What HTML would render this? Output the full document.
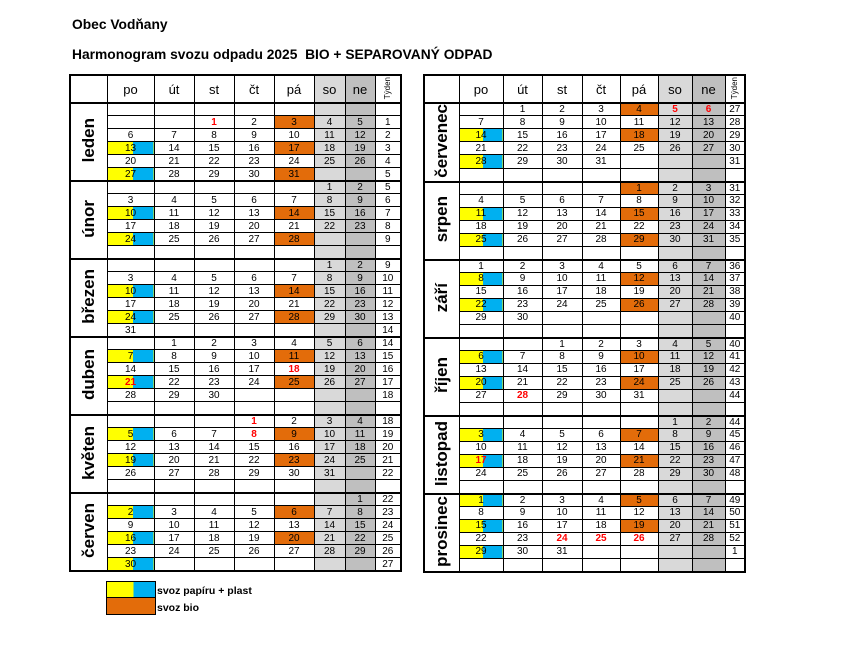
<!DOCTYPE html>
<html><head><meta charset="utf-8">
<style>
body{margin:0;width:852px;height:652px;background:#fff;font-family:"Liberation Sans",Arial,sans-serif;position:relative;overflow:hidden}
.t1{position:absolute;left:72px;top:17px;font-weight:bold;font-size:13.8px}
.t2{position:absolute;left:72px;top:47px;font-weight:bold;font-size:13.8px}
table{position:absolute;top:74px;border-collapse:collapse;table-layout:fixed;border:2px solid #000}
td{border:1px solid #000;height:12px;padding:0;font-size:10px;text-align:center;line-height:11px;overflow:hidden}
tr.h td{height:26px;font-size:13px;border-bottom:2px solid #000}
tr.m td{border-top:2px solid #000;height:11px}
td.mn{border-right:1px solid #000;border-left:2px solid #000}
td.mn span{writing-mode:vertical-rl;transform:rotate(180deg);font-weight:bold;font-size:17px;display:inline-block;line-height:20px}
td.ty span{writing-mode:vertical-rl;transform:rotate(180deg);font-size:8px;display:inline-block;line-height:10px}
.o{background:#e36c0a}
.y{background:linear-gradient(90deg,#ffff00 0,#ffff00 55%,#00b0f0 55%)}
.r{color:#f00;font-weight:bold}
col.s{background:#d9d9d9}col.n{background:#bfbfbf}
.lg{position:absolute;left:106px;width:48px;height:16px;border:1px solid #000}
.lt{position:absolute;left:157px;font-size:10.5px;font-weight:bold}
</style></head><body>
<div class="t1">Obec Vodňany</div>
<div class="t2">Harmonogram svozu odpadu 2025&nbsp; BIO + SEPAROVANÝ ODPAD</div>

<table style="left:69px;width:333px">
<colgroup><col style="width:37px"><col style="width:47px"><col style="width:40px"><col style="width:40px"><col style="width:40px"><col style="width:40px"><col class="s" style="width:31px"><col class="n" style="width:30px"><col style="width:26px"></colgroup>
<tr class="h"><td></td><td>po</td><td>út</td><td>st</td><td>čt</td><td>pá</td><td>so</td><td>ne</td><td class="ty"><span>Týden</span></td></tr>
<tr class="m"><td rowspan="6" class="mn"><span>leden</span></td><td></td><td></td><td></td><td></td><td></td><td></td><td></td><td></td></tr>
<tr><td></td><td></td><td class="r">1</td><td>2</td><td class="o">3</td><td>4</td><td>5</td><td>1</td></tr>
<tr><td>6</td><td>7</td><td>8</td><td>9</td><td>10</td><td>11</td><td>12</td><td>2</td></tr>
<tr><td class="y">13</td><td>14</td><td>15</td><td>16</td><td class="o">17</td><td>18</td><td>19</td><td>3</td></tr>
<tr><td>20</td><td>21</td><td>22</td><td>23</td><td>24</td><td>25</td><td>26</td><td>4</td></tr>
<tr><td class="y">27</td><td>28</td><td>29</td><td>30</td><td class="o">31</td><td></td><td></td><td>5</td></tr>
<tr class="m"><td rowspan="6" class="mn"><span>únor</span></td><td></td><td></td><td></td><td></td><td></td><td>1</td><td>2</td><td>5</td></tr>
<tr><td>3</td><td>4</td><td>5</td><td>6</td><td>7</td><td>8</td><td>9</td><td>6</td></tr>
<tr><td class="y">10</td><td>11</td><td>12</td><td>13</td><td class="o">14</td><td>15</td><td>16</td><td>7</td></tr>
<tr><td>17</td><td>18</td><td>19</td><td>20</td><td>21</td><td>22</td><td>23</td><td>8</td></tr>
<tr><td class="y">24</td><td>25</td><td>26</td><td>27</td><td class="o">28</td><td></td><td></td><td>9</td></tr>
<tr><td></td><td></td><td></td><td></td><td></td><td></td><td></td><td></td></tr>
<tr class="m"><td rowspan="6" class="mn"><span>březen</span></td><td></td><td></td><td></td><td></td><td></td><td>1</td><td>2</td><td>9</td></tr>
<tr><td>3</td><td>4</td><td>5</td><td>6</td><td>7</td><td>8</td><td>9</td><td>10</td></tr>
<tr><td class="y">10</td><td>11</td><td>12</td><td>13</td><td class="o">14</td><td>15</td><td>16</td><td>11</td></tr>
<tr><td>17</td><td>18</td><td>19</td><td>20</td><td>21</td><td>22</td><td>23</td><td>12</td></tr>
<tr><td class="y">24</td><td>25</td><td>26</td><td>27</td><td class="o">28</td><td>29</td><td>30</td><td>13</td></tr>
<tr><td>31</td><td></td><td></td><td></td><td></td><td></td><td></td><td>14</td></tr>
<tr class="m"><td rowspan="6" class="mn"><span>duben</span></td><td></td><td>1</td><td>2</td><td>3</td><td>4</td><td>5</td><td>6</td><td>14</td></tr>
<tr><td class="y">7</td><td>8</td><td>9</td><td>10</td><td class="o">11</td><td>12</td><td>13</td><td>15</td></tr>
<tr><td>14</td><td>15</td><td>16</td><td>17</td><td class="r">18</td><td>19</td><td>20</td><td>16</td></tr>
<tr><td class="y r">21</td><td>22</td><td>23</td><td>24</td><td class="o">25</td><td>26</td><td>27</td><td>17</td></tr>
<tr><td>28</td><td>29</td><td>30</td><td></td><td></td><td></td><td></td><td>18</td></tr>
<tr><td></td><td></td><td></td><td></td><td></td><td></td><td></td><td></td></tr>
<tr class="m"><td rowspan="6" class="mn"><span>květen</span></td><td></td><td></td><td></td><td class="r">1</td><td>2</td><td>3</td><td>4</td><td>18</td></tr>
<tr><td class="y">5</td><td>6</td><td>7</td><td class="r">8</td><td class="o">9</td><td>10</td><td>11</td><td>19</td></tr>
<tr><td>12</td><td>13</td><td>14</td><td>15</td><td>16</td><td>17</td><td>18</td><td>20</td></tr>
<tr><td class="y">19</td><td>20</td><td>21</td><td>22</td><td class="o">23</td><td>24</td><td>25</td><td>21</td></tr>
<tr><td>26</td><td>27</td><td>28</td><td>29</td><td>30</td><td>31</td><td></td><td>22</td></tr>
<tr><td></td><td></td><td></td><td></td><td></td><td></td><td></td><td></td></tr>
<tr class="m"><td rowspan="6" class="mn"><span>červen</span></td><td></td><td></td><td></td><td></td><td></td><td></td><td>1</td><td>22</td></tr>
<tr><td class="y">2</td><td>3</td><td>4</td><td>5</td><td class="o">6</td><td>7</td><td>8</td><td>23</td></tr>
<tr><td>9</td><td>10</td><td>11</td><td>12</td><td>13</td><td>14</td><td>15</td><td>24</td></tr>
<tr><td class="y">16</td><td>17</td><td>18</td><td>19</td><td class="o">20</td><td>21</td><td>22</td><td>25</td></tr>
<tr><td>23</td><td>24</td><td>25</td><td>26</td><td>27</td><td>28</td><td>29</td><td>26</td></tr>
<tr><td class="y">30</td><td></td><td></td><td></td><td></td><td></td><td></td><td>27</td></tr>
</table>

<table style="left:423px;width:323px">
<colgroup><col style="width:35px"><col style="width:44px"><col style="width:39px"><col style="width:40px"><col style="width:38px"><col style="width:38px"><col class="s" style="width:34px"><col class="n" style="width:33px"><col style="width:20px"></colgroup>
<tr class="h"><td></td><td>po</td><td>út</td><td>st</td><td>čt</td><td>pá</td><td>so</td><td>ne</td><td class="ty"><span>Týden</span></td></tr>
<tr class="m"><td rowspan="6" class="mn"><span>červenec</span></td><td></td><td>1</td><td>2</td><td>3</td><td class="o">4</td><td class="r">5</td><td class="r">6</td><td>27</td></tr>
<tr><td>7</td><td>8</td><td>9</td><td>10</td><td>11</td><td>12</td><td>13</td><td>28</td></tr>
<tr><td class="y">14</td><td>15</td><td>16</td><td>17</td><td class="o">18</td><td>19</td><td>20</td><td>29</td></tr>
<tr><td>21</td><td>22</td><td>23</td><td>24</td><td>25</td><td>26</td><td>27</td><td>30</td></tr>
<tr><td class="y">28</td><td>29</td><td>30</td><td>31</td><td></td><td></td><td></td><td>31</td></tr>
<tr><td></td><td></td><td></td><td></td><td></td><td></td><td></td><td></td></tr>
<tr class="m"><td rowspan="6" class="mn"><span>srpen</span></td><td></td><td></td><td></td><td></td><td class="o">1</td><td>2</td><td>3</td><td>31</td></tr>
<tr><td>4</td><td>5</td><td>6</td><td>7</td><td>8</td><td>9</td><td>10</td><td>32</td></tr>
<tr><td class="y">11</td><td>12</td><td>13</td><td>14</td><td class="o">15</td><td>16</td><td>17</td><td>33</td></tr>
<tr><td>18</td><td>19</td><td>20</td><td>21</td><td>22</td><td>23</td><td>24</td><td>34</td></tr>
<tr><td class="y">25</td><td>26</td><td>27</td><td>28</td><td class="o">29</td><td>30</td><td>31</td><td>35</td></tr>
<tr><td></td><td></td><td></td><td></td><td></td><td></td><td></td><td></td></tr>
<tr class="m"><td rowspan="6" class="mn"><span>září</span></td><td>1</td><td>2</td><td>3</td><td>4</td><td>5</td><td>6</td><td>7</td><td>36</td></tr>
<tr><td class="y">8</td><td>9</td><td>10</td><td>11</td><td class="o">12</td><td>13</td><td>14</td><td>37</td></tr>
<tr><td>15</td><td>16</td><td>17</td><td>18</td><td>19</td><td>20</td><td>21</td><td>38</td></tr>
<tr><td class="y">22</td><td>23</td><td>24</td><td>25</td><td class="o">26</td><td>27</td><td>28</td><td>39</td></tr>
<tr><td>29</td><td>30</td><td></td><td></td><td></td><td></td><td></td><td>40</td></tr>
<tr><td></td><td></td><td></td><td></td><td></td><td></td><td></td><td></td></tr>
<tr class="m"><td rowspan="6" class="mn"><span>říjen</span></td><td></td><td></td><td>1</td><td>2</td><td>3</td><td>4</td><td>5</td><td>40</td></tr>
<tr><td class="y">6</td><td>7</td><td>8</td><td>9</td><td class="o">10</td><td>11</td><td>12</td><td>41</td></tr>
<tr><td>13</td><td>14</td><td>15</td><td>16</td><td>17</td><td>18</td><td>19</td><td>42</td></tr>
<tr><td class="y">20</td><td>21</td><td>22</td><td>23</td><td class="o">24</td><td>25</td><td>26</td><td>43</td></tr>
<tr><td>27</td><td class="r">28</td><td>29</td><td>30</td><td>31</td><td></td><td></td><td>44</td></tr>
<tr><td></td><td></td><td></td><td></td><td></td><td></td><td></td><td></td></tr>
<tr class="m"><td rowspan="6" class="mn"><span>listopad</span></td><td></td><td></td><td></td><td></td><td></td><td>1</td><td>2</td><td>44</td></tr>
<tr><td class="y">3</td><td>4</td><td>5</td><td>6</td><td class="o">7</td><td>8</td><td>9</td><td>45</td></tr>
<tr><td>10</td><td>11</td><td>12</td><td>13</td><td>14</td><td>15</td><td>16</td><td>46</td></tr>
<tr><td class="y r">17</td><td>18</td><td>19</td><td>20</td><td class="o">21</td><td>22</td><td>23</td><td>47</td></tr>
<tr><td>24</td><td>25</td><td>26</td><td>27</td><td>28</td><td>29</td><td>30</td><td>48</td></tr>
<tr><td></td><td></td><td></td><td></td><td></td><td></td><td></td><td></td></tr>
<tr class="m"><td rowspan="6" class="mn"><span>prosinec</span></td><td class="y">1</td><td>2</td><td>3</td><td>4</td><td class="o">5</td><td>6</td><td>7</td><td>49</td></tr>
<tr><td>8</td><td>9</td><td>10</td><td>11</td><td>12</td><td>13</td><td>14</td><td>50</td></tr>
<tr><td class="y">15</td><td>16</td><td>17</td><td>18</td><td class="o">19</td><td>20</td><td>21</td><td>51</td></tr>
<tr><td>22</td><td>23</td><td class="r">24</td><td class="r">25</td><td class="r">26</td><td>27</td><td>28</td><td>52</td></tr>
<tr><td class="y">29</td><td>30</td><td>31</td><td></td><td></td><td></td><td></td><td>1</td></tr>
<tr><td></td><td></td><td></td><td></td><td></td><td></td><td></td><td></td></tr>
</table>

<div class="lg y" style="top:581px"></div>
<div class="lg o" style="top:597px"></div>
<div class="lt" style="top:585px">svoz papíru + plast</div>
<div class="lt" style="top:602px">svoz bio</div>
</body></html>
